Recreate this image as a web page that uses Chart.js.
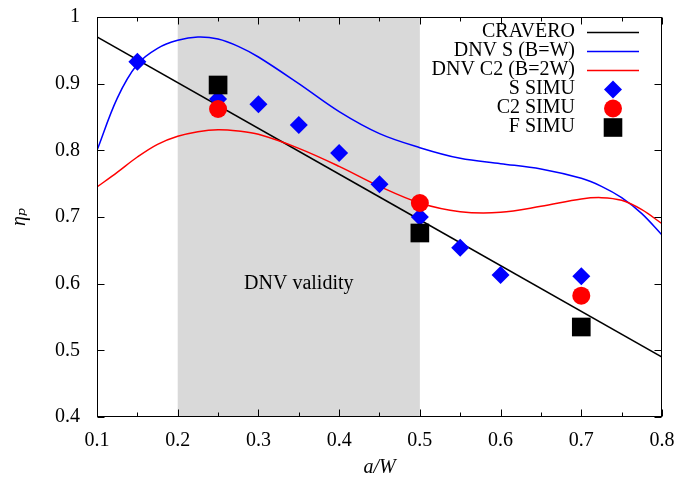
<!DOCTYPE html>
<html>
<head>
<meta charset="utf-8">
<script src="https://cdn.jsdelivr.net/npm/chart.js@4.4.0/dist/chart.umd.min.js"></script>
<style>
  html, body { margin: 0; padding: 0; background: #fff; }
  canvas { display: block; }
</style>
</head>
<body>
<canvas id="chart" width="680" height="480"></canvas>
<script>
// values
const craveroX = [0.1, 0.8];
const cravero = [0.970, 0.490];

const curveX = [0.1, 0.125, 0.15, 0.175, 0.2, 0.225, 0.25, 0.275, 0.3, 0.35, 0.4, 0.45, 0.5, 0.55, 0.6, 0.65, 0.7, 0.725, 0.75, 0.775, 0.8];
const dnvS  = [0.800, 0.878, 0.929, 0.953, 0.965, 0.970, 0.967, 0.956, 0.940, 0.900, 0.858, 0.825, 0.804, 0.788, 0.780, 0.772, 0.758, 0.746, 0.729, 0.705, 0.673];
const dnvC2 = [0.745, 0.767, 0.790, 0.809, 0.821, 0.828, 0.831, 0.829, 0.824, 0.803, 0.776, 0.746, 0.721, 0.708, 0.707, 0.716, 0.727, 0.729, 0.725, 0.711, 0.690];

const sSimuX = [0.15, 0.25, 0.3, 0.35, 0.4, 0.45, 0.5, 0.55, 0.6, 0.7];
const sSimu  = [0.933, 0.877, 0.869, 0.838, 0.796, 0.749, 0.700, 0.654, 0.613, 0.611];
const c2SimuX = [0.25, 0.5, 0.7];
const c2Simu  = [0.862, 0.721, 0.582];
const fSimuX = [0.25, 0.5, 0.7];
const fSimu  = [0.898, 0.676, 0.535];

const xMajor = [0.1, 0.2, 0.3, 0.4, 0.5, 0.6, 0.7, 0.8];
const xMinor = [0.15, 0.25, 0.35, 0.45, 0.55, 0.65, 0.75];
const yMajor = [0.4, 0.5, 0.6, 0.7, 0.8, 0.9, 1.0];

const band = [0.2, 0.5];
const bandLabel = 'DNV validity';

const SERIF = '"Liberation Serif", "DejaVu Serif", serif';
const FS = 20;
const pts = (xs, ys) => xs.map((x, i) => ({ x, y: ys[i] }));

const legendItems = [
  { label: 'CRAVERO', color: '#000000', line: true },
  { label: 'DNV S (B=W)', color: '#0000ff', line: true },
  { label: 'DNV C2 (B=2W)', color: '#ff0000', line: true },
  { label: 'S SIMU', color: '#0000ff', marker: 'diamond' },
  { label: 'C2 SIMU', color: '#ff0000', marker: 'circle' },
  { label: 'F SIMU', color: '#000000', marker: 'square' }
];

function marker(ctx, kind, x, y, color) {
  ctx.fillStyle = color;
  ctx.beginPath();
  if (kind === 'diamond') {
    ctx.moveTo(x - 9, y); ctx.lineTo(x, y - 9); ctx.lineTo(x + 9, y); ctx.lineTo(x, y + 9);
    ctx.closePath();
  } else if (kind === 'circle') {
    ctx.arc(x, y, 9, 0, Math.PI * 2);
  } else {
    ctx.rect(x - 9.3, y - 9.3, 18.6, 18.6);
  }
  ctx.fill();
}

const decor = {
  id: 'decor',
  beforeDatasetsDraw(chart) {
    const { ctx, chartArea: a, scales: { x, y } } = chart;
    const x0 = x.getPixelForValue(band[0]);
    const x1 = x.getPixelForValue(band[1]);
    ctx.save();
    ctx.fillStyle = '#d9d9d9';
    ctx.fillRect(x0, a.top, x1 - x0, a.bottom - a.top);
    ctx.fillStyle = '#000';
    ctx.font = FS + 'px ' + SERIF;
    ctx.textAlign = 'center';
    ctx.textBaseline = 'middle';
    ctx.fillText(bandLabel, x.getPixelForValue(0.35), y.getPixelForValue(0.6));
    ctx.restore();
  },
  afterDraw(chart) {
    const { ctx, chartArea: a, scales: { x, y } } = chart;
    ctx.save();
    ctx.strokeStyle = '#000';
    ctx.lineWidth = 1;
    ctx.beginPath();
    const L = Math.round(a.left) + 0.5, R = Math.round(a.right) - 0.5;
    const T = Math.round(a.top) + 0.5, B = Math.round(a.bottom) - 0.5;
    // inward ticks
    xMajor.forEach(v => {
      const px = Math.round(x.getPixelForValue(v)) + 0.5;
      ctx.moveTo(px, B); ctx.lineTo(px, B - 7);
      ctx.moveTo(px, T); ctx.lineTo(px, T + 7);
    });
    xMinor.forEach(v => {
      const px = Math.round(x.getPixelForValue(v)) + 0.5;
      ctx.moveTo(px, B); ctx.lineTo(px, B - 4);
      ctx.moveTo(px, T); ctx.lineTo(px, T + 4);
    });
    yMajor.forEach(v => {
      const py = Math.round(y.getPixelForValue(v)) + 0.5;
      ctx.moveTo(L, py); ctx.lineTo(L + 7, py);
      ctx.moveTo(R, py); ctx.lineTo(R - 7, py);
    });
    ctx.stroke();
    ctx.strokeRect(L, T, R - L, B - T);

    // legend, text on the left, sample on the right
    ctx.font = FS + 'px ' + SERIF;
    ctx.textAlign = 'right';
    ctx.textBaseline = 'middle';
    legendItems.forEach((it, i) => {
      const ry = a.top + 15.5 + i * 19;
      ctx.fillStyle = '#000';
      ctx.fillText(it.label, a.right - 87, ry - 1);
      if (it.line) {
        ctx.strokeStyle = it.color;
        ctx.lineWidth = 1.5;
        ctx.beginPath();
        ctx.moveTo(a.right - 75, ry);
        ctx.lineTo(a.right - 23, ry);
        ctx.stroke();
      } else {
        marker(ctx, it.marker, a.right - 49, ry, it.color);
      }
    });
    ctx.restore();
  }
};

const lineDs = (label, data, color, order) => ({
  label, data, borderColor: color, backgroundColor: color,
  borderWidth: 1.5, pointRadius: 0, showLine: true,
  tension: 0.35, order
});
const pointDs = (label, data, color, style, radius, order) => ({
  label, data, showLine: false, pointStyle: style, pointRadius: radius,
  pointBackgroundColor: color, pointBorderWidth: 0, borderColor: color,
  backgroundColor: color, order
});

Chart.defaults.color = '#000';
Chart.defaults.font.family = SERIF;

new Chart(document.getElementById('chart'), {
  type: 'line',
  data: {
    datasets: [
      lineDs('CRAVERO', pts(craveroX, cravero), '#000000', 6),
      lineDs('DNV S (B=W)', pts(curveX, dnvS), '#0000ff', 5),
      lineDs('DNV C2 (B=2W)', pts(curveX, dnvC2), '#ff0000', 4),
      pointDs('S SIMU', pts(sSimuX, sSimu), '#0000ff', 'rectRot', 9, 3),
      pointDs('C2 SIMU', pts(c2SimuX, c2Simu), '#ff0000', 'circle', 9, 2),
      pointDs('F SIMU', pts(fSimuX, fSimu), '#000000', 'rect', 13.2, 1)
    ]
  },
  options: {
    responsive: false,
    animation: false,
    layout: { padding: { top: 17, right: 18, left: 0, bottom: 0 } },
    plugins: { legend: { display: false }, tooltip: { enabled: false } },
    scales: {
      x: {
        type: 'linear', min: 0.1, max: 0.8,
        grid: { display: false },
        border: { display: false },
        ticks: {
          stepSize: 0.1, autoSkip: false, maxRotation: 0, padding: 4,
          font: { size: FS },
          callback: v => v.toFixed(1)
        },
        title: {
          display: true, text: 'a/W',
          font: { size: FS, style: 'italic' },
          padding: { top: 0, bottom: 0 }
        },
        afterFit: s => { s.height = 63; s.paddingLeft = 0; s.paddingRight = 0; }
      },
      y: {
        type: 'linear', min: 0.4, max: 1,
        grid: { display: false },
        border: { display: false },
        ticks: {
          stepSize: 0.1, autoSkip: false, padding: 9,
          font: { size: FS },
          callback: v => Math.abs(v - 1) < 1e-9 ? '1' : v.toFixed(1)
        },
        title: {
          display: true, text: 'ηₚ',
          font: { size: FS, style: 'italic' },
          padding: { top: 8, bottom: 0 }
        },
        afterFit: s => { s.width = 97; s.paddingTop = 0; s.paddingBottom = 0; }
      }
    }
  },
  plugins: [decor]
});
</script>
</body>
</html>
